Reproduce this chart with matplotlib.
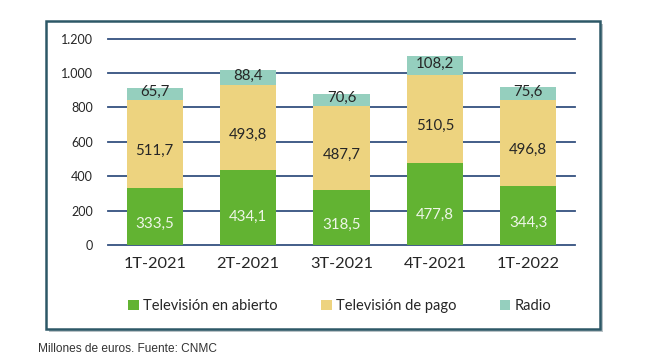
import matplotlib
matplotlib.use("Agg")
import matplotlib.pyplot as plt
from matplotlib.patches import Rectangle

categories = ["1T-2021", "2T-2021", "3T-2021", "4T-2021", "1T-2022"]
tv_abierto = [333.5, 434.1, 318.5, 477.8, 344.3]
tv_pago = [511.7, 493.8, 487.7, 510.5, 496.8]
radio = [65.7, 88.4, 70.6, 108.2, 75.6]
series_names = ["Televisión en abierto", "Televisión de pago", "Radio"]
yticks = [0, 200, 400, 600, 800, 1000, 1200]
ytick_labels = ["0", "200", "400", "600", "800", "1.000", "1.200"]

def fmt(v):
    return f"{v:.1f}".replace(".", ",")

c_green = "#62b332"
c_yellow = "#edd37f"
c_teal = "#95cfbe"
c_grid = "#34507f"
txt = "#262626"
FONT = "Lato"

plt.rcParams["font.family"] = [FONT, "DejaVu Sans"]

fig = plt.figure(figsize=(6.5, 3.54), dpi=100)
W, H = 650, 354

# outer box with shadow
bx0, by0, bx1, by1 = 46, 21, 600, 329
fig.patches.append(Rectangle(((bx0 + 3) / W, 1 - (by1 + 3) / H), (bx1 - bx0) / W, (by1 - by0) / H,
                             transform=fig.transFigure, facecolor="#b9c2c6", edgecolor="none", zorder=0))
fig.patches.append(Rectangle((bx0 / W, 1 - by1 / H), (bx1 - bx0) / W, (by1 - by0) / H,
                             transform=fig.transFigure, facecolor="white", edgecolor="#2d5867",
                             linewidth=1.8, zorder=1))

ax = fig.add_axes([108 / W, 1 - 245 / H, (575 - 108) / W, (245 - 38.7) / H])
ax.set_zorder(2)
ax.patch.set_visible(False)

x = list(range(len(categories)))
w = 0.6
b1 = ax.bar(x, tv_abierto, w, color=c_green, label=series_names[0], zorder=3)
b2 = ax.bar(x, tv_pago, w, bottom=tv_abierto, color=c_yellow, label=series_names[1], zorder=3)
bottom3 = [a + b for a, b in zip(tv_abierto, tv_pago)]
b3 = ax.bar(x, radio, w, bottom=bottom3, color=c_teal, label=series_names[2], zorder=3)

for i in x:
    ax.text(i, tv_abierto[i] * 0.37, fmt(tv_abierto[i]), ha="center", va="center",
            color="#eef6e8", fontsize=10.8, zorder=4)
    ax.text(i, tv_abierto[i] + tv_pago[i] * 0.42, fmt(tv_pago[i]), ha="center", va="center",
            color=txt, fontsize=10.8, zorder=4)
    ax.text(i, bottom3[i] + radio[i] * 0.5 + 12, fmt(radio[i]), ha="center", va="center",
            color=txt, fontsize=10.8, zorder=4)

ax.set_xlim(-0.5, 4.5)
ax.set_ylim(0, 1200)
ax.set_yticks(yticks)
ax.set_yticklabels(ytick_labels, fontsize=9, color=txt)
ax.set_xticks(x)
ax.set_xticklabels(categories, fontsize=11.8, color=txt)
ax.tick_params(axis="both", length=0)
ax.tick_params(axis="y", pad=11)
ax.tick_params(axis="x", pad=9)
for s in ax.spines.values():
    s.set_visible(False)
for yv in yticks:
    ax.axhline(yv, color=c_grid, linewidth=1.3, zorder=1, clip_on=False)

leg = fig.legend(handles=[b1, b2, b3], loc="center", bbox_to_anchor=(340 / W, 1 - 306 / H),
                 ncol=3, frameon=False, fontsize=10.5, handlelength=0.7, handleheight=0.7,
                 handletextpad=0.3, columnspacing=3.0)
for t in leg.get_texts():
    t.set_color(txt)

fig.text(38 / W, 1 - 349 / H, "Millones de euros. Fuente: CNMC", fontsize=8.6,
         color="#333333", family=["Liberation Sans", "DejaVu Sans"], va="center", ha="left")

fig.savefig("out.png", dpi=100, facecolor="white")
